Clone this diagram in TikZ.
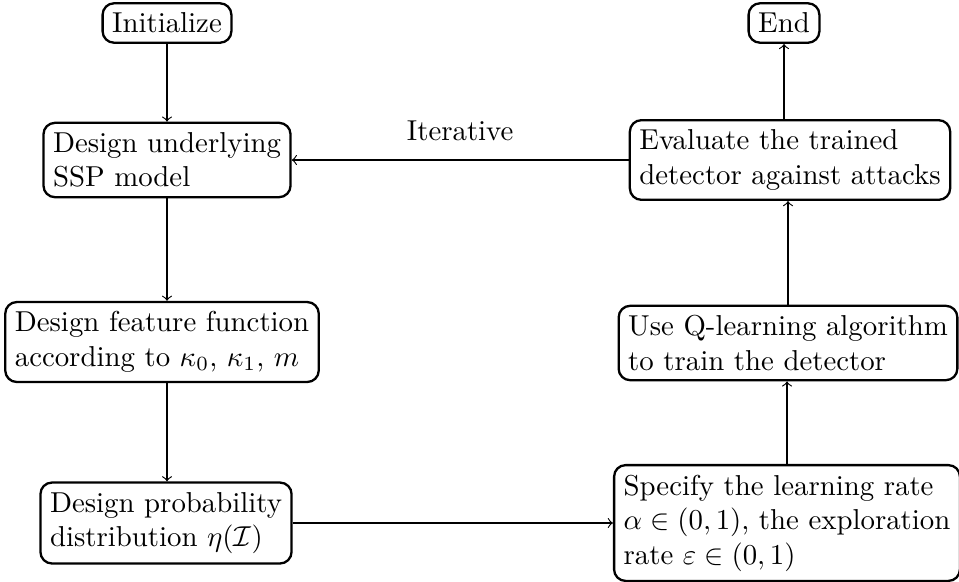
\documentclass[tikz,border=0pt]{standalone}
\usepackage{amsmath,amssymb}
\begin{document}
\begin{tikzpicture}[x=0.34722pt,y=-0.34722pt,
  box/.style={draw,thick,rounded corners=4pt,align=left,inner sep=3.33pt},
  flow/.style={->}]
\useasboundingbox (0,0) rectangle (959,581);
% left column
\node[box] (init) at (167,23) {Initialize};
\node[box] (ssp) at (167,160) {Design underlying\\SSP model};
\node[box] (feat) at (162,342) {Design feature function\\according to $\kappa_0$, $\kappa_1$, $m$};
\node[box] (prob) at (166,523) {Design probability\\distribution $\eta(\mathcal{I})$};
% right column
\node[box] (end) at (784,23) {End};
\node[box] (eval) at (790,160) {Evaluate the trained\\detector against attacks};
\node[box] (qlrn) at (788,343) {Use Q-learning algorithm\\to train the detector};
\node[box] (spec) at (787,523) {Specify the learning rate\\$\alpha\in(0,1)$, the exploration\\rate $\varepsilon\in(0,1)$};
% connectors
\draw[flow] (init) -- (ssp);
\draw[flow] (ssp.south) -- (ssp.south |- feat.north);
\draw[flow] (feat.south -| ssp.south) -- (ssp.south |- prob.north);
\draw[flow] (prob) -- (spec);
\draw[flow] (spec) -- (spec |- qlrn.south);
\draw[flow] (qlrn.north) -- (qlrn.north |- eval.south);
\draw[flow] (eval.north -| end) -- (end);
\draw[flow] (eval) -- node[above=3pt] {Iterative} (ssp);
\end{tikzpicture}
\end{document}
